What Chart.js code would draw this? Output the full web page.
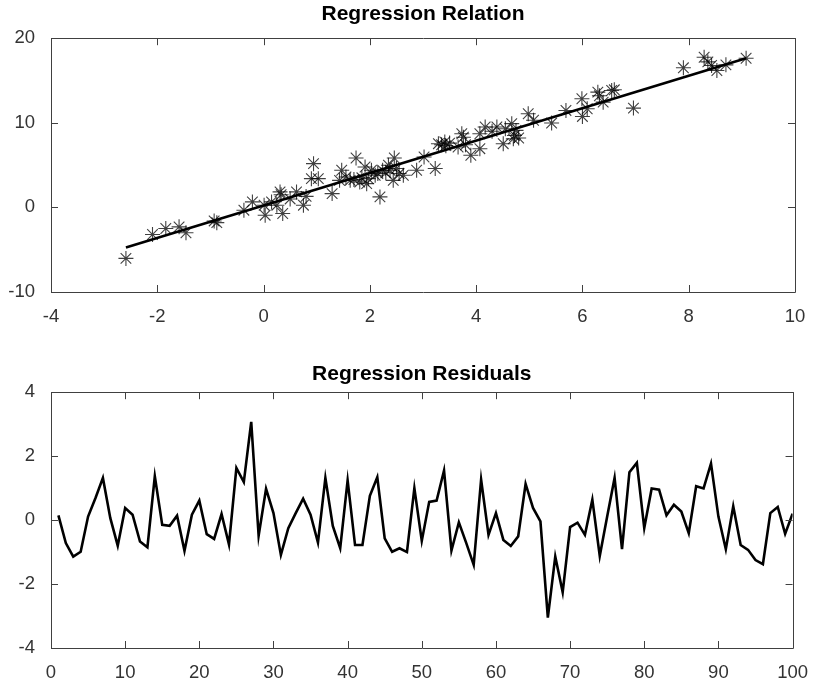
<!DOCTYPE html>
<html>
<head>
<meta charset="utf-8">
<script src="https://cdn.jsdelivr.net/npm/chart.js@4/dist/chart.umd.min.js"></script>
<style>
  html, body { margin: 0; padding: 0; background: #fff; }
  #wrap { position: relative; width: 814px; height: 683px; }
  .pane { position: absolute; left: 0; width: 814px; }
</style>
</head>
<body>
<div id="wrap">
  <div class="pane" style="top:0;height:340px"><canvas id="relChart" width="814" height="340"></canvas></div>
  <div class="pane" style="top:340px;height:343px"><canvas id="resChart" width="814" height="343"></canvas></div>
</div>
<script>
// scatter of x against y
const scatterX = [-2.59, -2.09, -1.84, -1.59, -1.46, -0.93, -0.88, -0.37, -0.21, 0.01,
  0.03, 0.15, 0.25, 0.31, 0.36, 0.33, 0.62, 0.75, 0.80, 0.94,
  0.90, 1.03, 1.29, 1.47, 1.43, 1.74, 1.63, 1.81, 1.91, 1.94,
  2.03, 2.10, 2.19, 2.24, 2.35, 2.38, 2.46, 2.50, 2.44, 2.63,
  2.88, 3.02, 3.23, 3.29, 3.41, 3.43, 3.66, 3.73, 3.76, 3.90,
  4.07, 4.07, 4.17, 4.39, 4.51, 4.67, 4.70, 4.72, 4.75, 4.98,
  5.08, 5.42, 5.69, 5.99, 6.00, 6.09, 6.29, 6.32, 6.39, 6.55,
  6.60, 6.96, 7.90, 8.29, 8.36, 8.43, 8.53, 8.70, 9.08,
  1.55, 1.70, 1.85, 1.97, 2.15, 2.30, 2.55, 3.35, 3.50, 3.80, 4.30, 4.55, 4.80, 0.50];
const scatterY = [-6.03, -3.20, -2.49, -2.30, -3.00, -1.60, -1.80, -0.33, 0.65, 0.26,
  -0.92, 0.65, 0.26, 1.83, -0.72, 1.50, 1.83, 0.26, 1.30, 5.17,
  3.40, 3.40, 1.63, 4.39, 3.20, 5.84, 3.20, 3.00, 4.78, 2.81,
  4.39, 3.80, 1.24, 4.39, 4.98, 4.39, 5.84, 4.60, 3.20, 3.80,
  4.39, 5.96, 4.59, 7.53, 7.73, 7.30, 7.14, 8.71, 8.30, 6.16,
  8.71, 6.94, 9.50, 9.50, 7.53, 9.90, 8.10, 8.50, 9.10, 11.07,
  10.30, 9.97, 11.46, 12.84, 10.75, 11.66, 13.62, 13.20, 12.44, 13.82,
  13.90, 11.74, 16.50, 17.75, 17.20, 16.77, 16.18, 16.85, 17.63,
  3.60, 3.30, 3.50, 3.40, 4.00, 4.10, 4.00, 7.40, 7.60, 7.40, 9.00, 9.30, 8.20, 1.00];

// fitted line y = a + b*x
const fitIntercept = 0.23;
const fitSlope = 1.916;

// residual per observation
const residuals = [0.15, -0.72, -1.14, -0.99, 0.11, 0.69, 1.32, 0.06, -0.80, 0.38,
  0.17, -0.67, -0.85, 1.37, -0.15, -0.18, 0.14, -0.96, 0.17, 0.61,
  -0.44, -0.59, 0.19, -0.76, 1.63, 1.19, 3.07, -0.49, 0.98, 0.22,
  -1.09, -0.25, 0.22, 0.67, 0.17, -0.70, 1.32, -0.18, -0.88, 1.24,
  -0.78, -0.78, 0.76, 1.34, -0.57, -0.99, -0.88, -1.00, 1.00, -0.65,
  0.57, 0.61, 1.55, -0.95, -0.07, -0.72, -1.40, 1.27, -0.46, 0.22,
  -0.62, -0.81, -0.51, 1.13, 0.38, -0.04, -3.05, -1.14, -2.26, -0.22,
  -0.08, -0.46, 0.64, -1.12, 0.11, 1.32, -0.91, 1.50, 1.79, -0.25,
  0.99, 0.95, 0.15, 0.48, 0.27, -0.41, 1.06, 0.99, 1.77, 0.11,
  -0.91, 0.43, -0.78, -0.93, -1.25, -1.38, 0.22, 0.41, -0.43, 0.20];

const relXTicks = [-4, -2, 0, 2, 4, 6, 8, 10];
const relYTicks = [-10, 0, 10, 20];
const resXTicks = [0, 10, 20, 30, 40, 50, 60, 70, 80, 90, 100];
const resYTicks = [-4, -2, 0, 2, 4];

const axisColor = '#404040';
const tickFont = { family: 'Liberation Sans, Arial, sans-serif', size: 18.5 };
const titleFont = { family: 'Liberation Sans, Arial, sans-serif', size: 21, weight: 'bold' };

// box round the plot area with inward tick marks on every side
const boxTicks = {
  id: 'boxTicks',
  afterDraw(chart) {
    const { ctx, chartArea: a, scales } = chart;
    const len = 7;
    ctx.save();
    ctx.strokeStyle = axisColor;
    ctx.lineWidth = 1;
    ctx.beginPath();
    ctx.rect(Math.round(a.left) + 0.5, Math.round(a.top) + 0.5,
      Math.round(a.right - a.left), Math.round(a.bottom - a.top));
    scales.x.ticks.forEach(t => {
      const px = Math.round(scales.x.getPixelForValue(t.value)) + 0.5;
      ctx.moveTo(px, a.bottom); ctx.lineTo(px, a.bottom - len);
      ctx.moveTo(px, a.top); ctx.lineTo(px, a.top + len);
    });
    scales.y.ticks.forEach(t => {
      const py = Math.round(scales.y.getPixelForValue(t.value)) + 0.5;
      ctx.moveTo(a.left, py); ctx.lineTo(a.left + len, py);
      ctx.moveTo(a.right, py); ctx.lineTo(a.right - len, py);
    });
    ctx.stroke();
    ctx.restore();
  }
};

function axis(min, max, ticks, isY, size) {
  return {
    type: 'linear',
    min: min,
    max: max,
    grid: { display: false },
    border: { display: false },
    afterBuildTicks: s => { s.ticks = ticks.map(v => ({ value: v })); },
    afterFit: s => { if (isY) s.width = size; else s.height = size; },
    ticks: { color: '#333', font: tickFont, padding: isY ? 8 : 6, maxRotation: 0, autoSkip: false }
  };
}

function baseOptions(title, titlePad, topPad) {
  return {
    responsive: false,
    animation: false,
    devicePixelRatio: 1,
    layout: { padding: { left: 0, right: 19, top: topPad, bottom: 0 } },
    plugins: {
      legend: { display: false },
      tooltip: { enabled: false },
      title: {
        display: true, text: title, color: '#000', font: titleFont, fullSize: false,
        padding: { top: 0, bottom: titlePad }
      }
    }
  };
}

// regression relation: observations plus fitted line
const xMin = Math.min(...scatterX);
const xMax = Math.max(...scatterX);
const relOpts = baseOptions('Regression Relation', 11, 2);
relOpts.scales = {
  x: axis(-4, 10, relXTicks, false, 48),
  y: axis(-10, 20, relYTicks, true, 51)
};
new Chart(document.getElementById('relChart'), {
  type: 'scatter',
  data: {
    datasets: [{
      data: scatterX.map((x, i) => ({ x: x, y: scatterY[i] })),
      pointStyle: 'star',
      pointRadius: 7.5,
      borderColor: 'rgba(0,0,0,0.75)',
      borderWidth: 1.1,
      backgroundColor: 'rgba(0,0,0,0)'
    }, {
      data: [{ x: xMin, y: fitIntercept + fitSlope * xMin }, { x: xMax, y: fitIntercept + fitSlope * xMax }],
      showLine: true,
      pointRadius: 0,
      borderColor: '#000',
      borderWidth: 2.6
    }]
  },
  options: relOpts,
  plugins: [boxTicks]
});

// residuals against observation number
const resOpts = baseOptions('Regression Residuals', 5, 22);
resOpts.scales = {
  x: axis(0, 100, resXTicks, false, 35),
  y: axis(-4, 4, resYTicks, true, 51)
};
new Chart(document.getElementById('resChart'), {
  type: 'scatter',
  data: {
    datasets: [{
      data: residuals.map((r, i) => ({ x: i + 1, y: r })),
      showLine: true,
      pointRadius: 0,
      borderColor: '#000',
      borderWidth: 2.6,
      tension: 0
    }]
  },
  options: resOpts,
  plugins: [boxTicks]
});
</script>
</body>
</html>
